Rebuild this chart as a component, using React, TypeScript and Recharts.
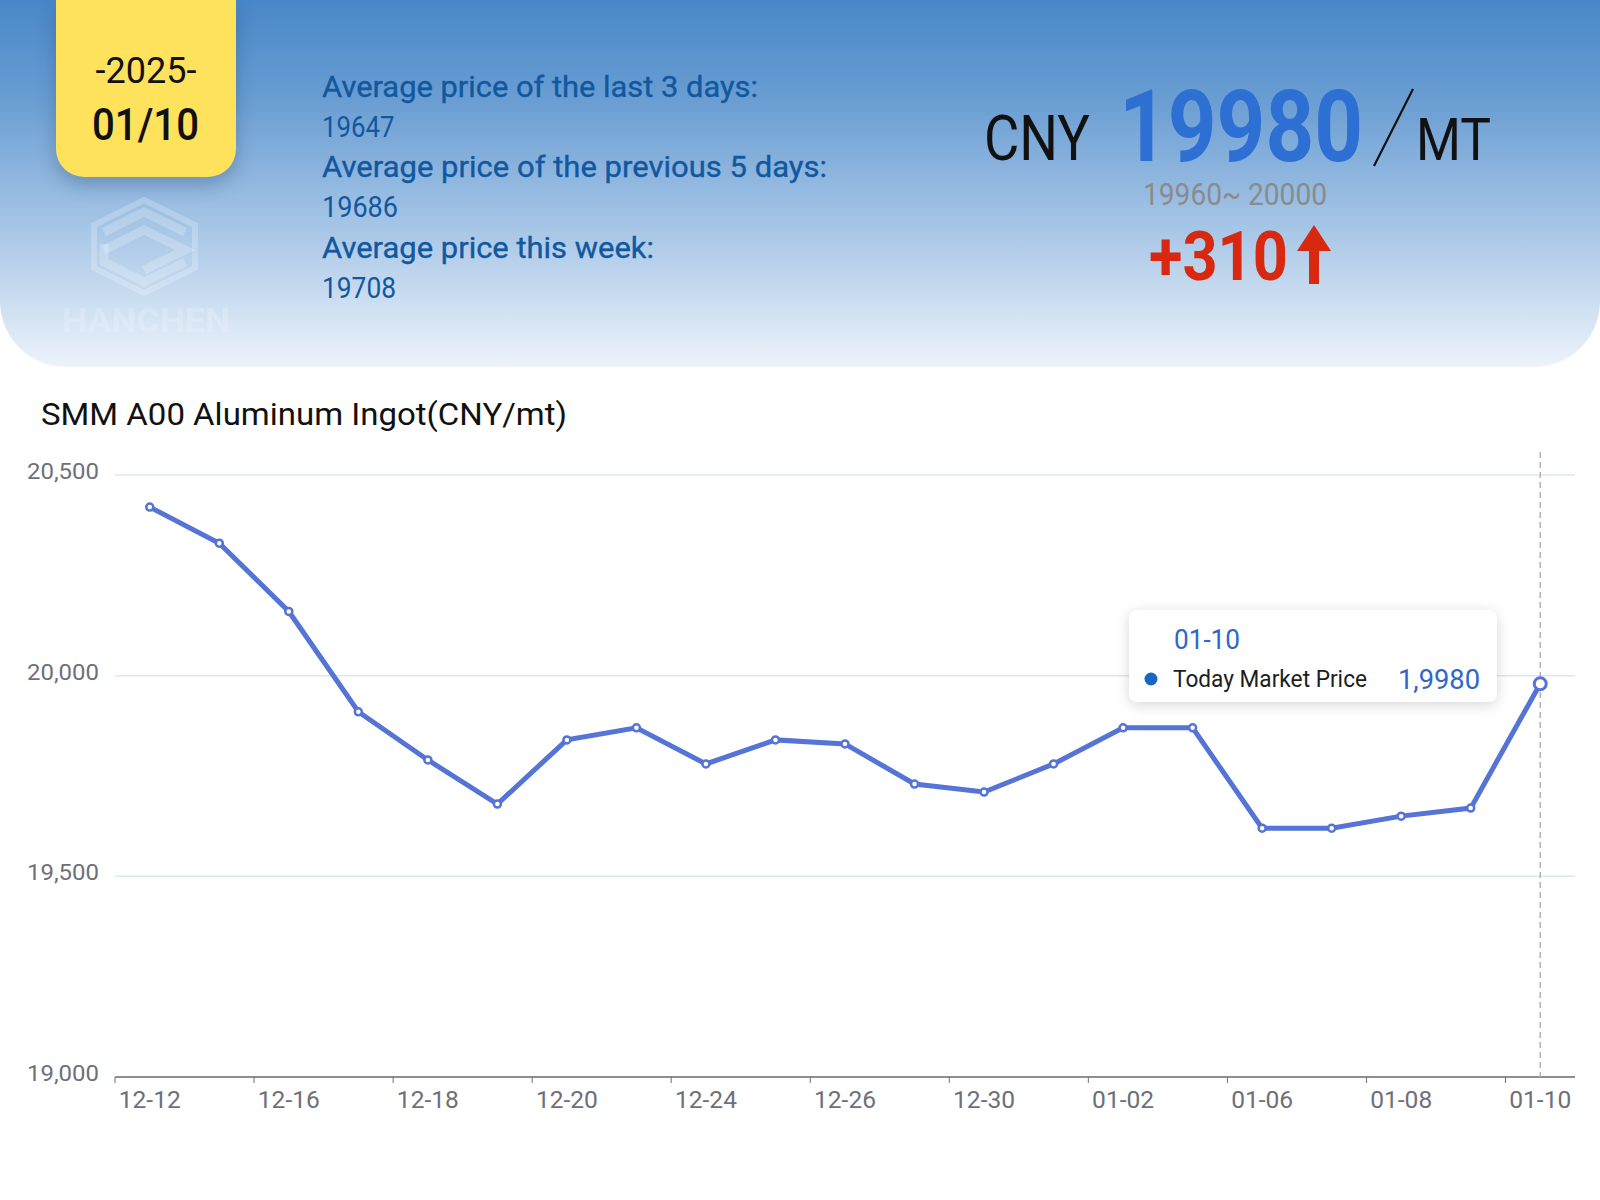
import { CartesianGrid, Line, LineChart, Tooltip, XAxis, YAxis } from "recharts";

const dates = [
  "12-12", "12-13", "12-16", "12-17", "12-18", "12-19", "12-20",
  "12-23", "12-24", "12-25", "12-26", "12-27", "12-30", "12-31",
  "01-02", "01-03", "01-06", "01-07", "01-08", "01-09", "01-10",
];
const prices = [
  20420, 20330, 20160, 19910, 19790, 19680, 19840,
  19870, 19780, 19840, 19830, 19730, 19710, 19780,
  19870, 19870, 19620, 19620, 19650, 19670, 19980,
];
const yTicks = [19000, 19500, 20000, 20500];
const seriesName = "Today Market Price";
const chartTitle = "SMM A00 Aluminum Ingot(CNY/mt)";

const averageLabels = [
  "Average price of the last 3 days:",
  "Average price of the previous 5 days:",
  "Average price this week:",
];
const averageValues = ["19647", "19686", "19708"];

const rows = dates.map((date, i) => ({ date, price: prices[i] }));

const FONT = "Roboto, 'Noto Sans', sans-serif";
const BLUE_LINE = "#5673d6";
const AXIS = "#6e7079";

const CHART_TOP = 440;
const CHART_W = 1600;
const CHART_H = 697;
const Y_W = 115;
const RIGHT = 25;
const BAND = (CHART_W - Y_W - RIGHT) / dates.length;
const HALF = BAND / 2;

function fmtAxis(v: number) {
  return v.toLocaleString("en-US");
}

// the source shows the value as "1,9980"
function fmtTip(v: number) {
  const s = String(v);
  return `${s.slice(0, 1)},${s.slice(1)}`;
}

function XTick(props: any) {
  const { x, y, payload } = props;
  return (
    <g>
      <line x1={x - HALF} x2={x - HALF} y1={y} y2={y + 6} stroke={AXIS} strokeWidth={1} />
      <text
        x={x}
        y={y + 31}
        textAnchor="middle"
        fill={AXIS}
        fontSize={23}
        fontFamily={FONT}
        textLength={62}
        lengthAdjust="spacingAndGlyphs"
      >
        {payload.value}
      </text>
    </g>
  );
}

function YTick(props: any) {
  const { x, y, payload } = props;
  return (
    <text
      x={x - 16}
      y={y + 4}
      textAnchor="end"
      fill={AXIS}
      fontSize={22}
      fontFamily={FONT}
      textLength={72}
      lengthAdjust="spacingAndGlyphs"
    >
      {fmtAxis(payload.value)}
    </text>
  );
}

function DashCursor(props: any) {
  const { points } = props;
  if (!points || points.length < 2) return null;
  const x = points[0].x;
  return (
    <line
      x1={x}
      x2={x}
      y1={points[0].y - 23}
      y2={points[1].y}
      stroke="#b4b4b4"
      strokeWidth={1.5}
      strokeDasharray="6 4"
    />
  );
}

function TipBox(props: any) {
  const { active, payload, label } = props;
  if (!active || !payload || !payload.length) return null;
  return (
    <div
      style={{
        width: 368,
        height: 92,
        background: "#fff",
        borderRadius: 8,
        boxShadow: "0 3px 14px rgba(0,0,0,0.16)",
      }}
    >
      <svg width={368} height={92} style={{ display: "block" }}>
        <text x={45} y={39} fontSize={28} fill="#2f67c8" fontFamily={FONT} textLength={66} lengthAdjust="spacingAndGlyphs">
          {label}
        </text>
        <circle cx={22} cy={69} r={6.5} fill="#1a66c4" />
        <text x={44} y={77} fontSize={23} fill="#1e1e1e" fontFamily={FONT} textLength={194} lengthAdjust="spacingAndGlyphs">
          {payload[0].name}
        </text>
        <text x={351} y={79} fontSize={28} fill="#2f67c8" fontFamily={FONT} textAnchor="end" textLength={82} lengthAdjust="spacingAndGlyphs">
          {fmtTip(payload[0].value)}
        </text>
      </svg>
    </div>
  );
}

function Header() {
  const avgBase = [96.5, 136.5, 176.5, 217, 257.5, 298];
  const labelW = [436, 505, 332];
  const valueW = [72.5, 76, 74];
  return (
    <svg width={1600} height={440} style={{ position: "absolute", left: 0, top: 0 }}>
      {/* watermark logo */}
      <g fill="none" stroke="#ffffff" strokeOpacity={0.22} strokeWidth={9} strokeLinejoin="miter">
        <polygon points="144,200 195,225 195,268 144,293 94,268 94,225" strokeWidth={6} />
        <polyline points="104,232 144,212 185,232" />
        <polyline points="104,250 144,230 185,250 144,270" />
        <polyline points="185,262 144,282 104,262 104,244" />
      </g>
      <text
        x={62}
        y={332}
        fontSize={34}
        fontWeight={700}
        fill="#ffffff"
        fillOpacity={0.2}
        fontFamily={FONT}
        textLength={168}
        lengthAdjust="spacingAndGlyphs"
      >
        HANCHEN
      </text>

      {averageLabels.map((t, i) => (
        <g key={t}>
          <text
            x={322}
            y={avgBase[i * 2]}
            fontSize={29}
            fill="#11589f"
            fontFamily={FONT}
            stroke="#11589f"
            strokeWidth={0.35}
            textLength={labelW[i]}
            lengthAdjust="spacingAndGlyphs"
          >
            {t}
          </text>
          <text
            x={322}
            y={avgBase[i * 2 + 1]}
            fontSize={29}
            fill="#11589f"
            fontFamily={FONT}
            textLength={valueW[i]}
            lengthAdjust="spacingAndGlyphs"
          >
            {averageValues[i]}
          </text>
        </g>
      ))}

      <text x={984} y={160} fontSize={63} fill="#111" fontFamily={FONT} textLength={106} lengthAdjust="spacingAndGlyphs">
        CNY
      </text>
      <text x={1119} y={161} fontSize={100} fontWeight={700} fill="#2d6fd3" fontFamily={FONT} textLength={244} lengthAdjust="spacingAndGlyphs">
        19980
      </text>
      <line x1={1413} y1={89} x2={1374} y2={166} stroke="#111" strokeWidth={2.2} />
      <text x={1416} y={160} fontSize={60} fill="#111" fontFamily={FONT} textLength={75} lengthAdjust="spacingAndGlyphs">
        MT
      </text>
      <text x={1143} y={205} fontSize={31} fill="#8b8b8b" fontFamily={FONT} textLength={184} lengthAdjust="spacingAndGlyphs">
        19960~ 20000
      </text>
      <text x={1149} y={280} fontSize={69} fontWeight={700} fill="#d8280f" fontFamily={FONT} textLength={139} lengthAdjust="spacingAndGlyphs">
        +310
      </text>
      <polygon
        points="1314,225 1331,251 1319,251 1319,284 1309,284 1309,251 1297,251"
        fill="#d8280f"
      />

      <text x={41} y={424.5} fontSize={31} fill="#111" fontFamily={FONT} textLength={526} lengthAdjust="spacingAndGlyphs">
        {chartTitle}
      </text>
    </svg>
  );
}

export default function App() {
  return (
    <div
      style={{
        position: "absolute",
        left: 0,
        top: 0,
        width: 1600,
        height: 1200,
        background: "#fff",
        overflow: "hidden",
        fontFamily: FONT,
      }}
    >
      <div
        style={{
          position: "absolute",
          left: 0,
          top: 0,
          width: 1600,
          height: 367,
          borderBottomLeftRadius: 66,
          borderBottomRightRadius: 66,
          background:
            "linear-gradient(180deg, #4887c7 0%, #6b9ed3 28%, #9fc1e4 58%, #cfe0f2 84%, #edf3fa 100%)",
        }}
      />
      <div
        style={{
          position: "absolute",
          left: 56,
          top: 0,
          width: 180,
          height: 177,
          background: "#fee25c",
          borderBottomLeftRadius: 28,
          borderBottomRightRadius: 28,
          boxShadow: "0 8px 18px rgba(20,50,90,0.28)",
        }}
      >
        <svg width={180} height={177} style={{ display: "block" }}>
          <text x={90} y={83} textAnchor="middle" fontSize={36} fill="#111" fontFamily={FONT}>
            -2025-
          </text>
          <text
            x={36}
            y={140}
            fontSize={45}
            fontWeight={500}
            fill="#111"
            fontFamily={FONT}
            textLength={107}
            lengthAdjust="spacingAndGlyphs"
          >
            01/10
          </text>
        </svg>
      </div>
      <Header />
      <div style={{ position: "absolute", left: 0, top: CHART_TOP }}>
        <LineChart
          width={CHART_W}
          height={CHART_H}
          data={rows}
          margin={{ top: 35, right: RIGHT, bottom: 0, left: 0 }}
        >
          <CartesianGrid vertical={false} stroke="#e0e6f1" strokeWidth={1.5} />
          <XAxis
            dataKey="date"
            interval={1}
            padding={{ left: HALF, right: HALF }}
            axisLine={{ stroke: AXIS, strokeWidth: 1.5 }}
            tickLine={false}
            tickSize={0}
            tickMargin={0}
            height={60}
            tick={<XTick />}
          />
          <YAxis
            domain={[19000, 20500]}
            ticks={yTicks}
            width={Y_W}
            axisLine={false}
            tickLine={false}
            tickSize={0}
            tickMargin={0}
            tick={<YTick />}
          />
          <Tooltip
            defaultIndex={20}
            active
            position={{ x: 1129, y: 170 }}
            cursor={<DashCursor />}
            content={<TipBox />}
            isAnimationActive={false}
            wrapperStyle={{ outline: "none" }}
          />
          <Line
            type="linear"
            dataKey="price"
            name={seriesName}
            stroke={BLUE_LINE}
            strokeWidth={5}
            dot={{ r: 3.5, fill: "#fff", stroke: BLUE_LINE, strokeWidth: 2.5 }}
            activeDot={{ r: 6, fill: "#fff", stroke: BLUE_LINE, strokeWidth: 3 }}
            isAnimationActive={false}
          />
        </LineChart>
      </div>
    </div>
  );
}
